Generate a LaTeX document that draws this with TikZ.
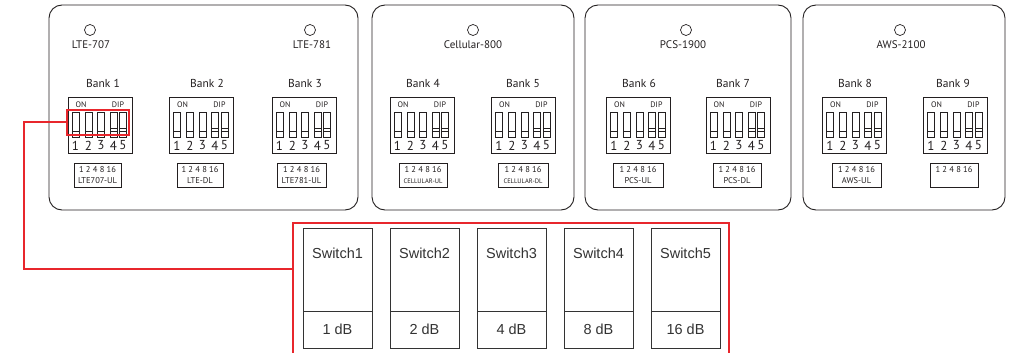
\documentclass[tikz,border=0pt]{standalone}
\usepackage{fontspec}
\setmainfont{PT Sans}
\newfontfamily\helv{Liberation Sans}
\definecolor{hired}{HTML}{E8262C}
\definecolor{ink}{HTML}{231F20}
\definecolor{swgray}{HTML}{333333}
\tikzset{
  panel/.style={draw=ink, line width=0.9pt, rounded corners=13pt, inner sep=0pt},
  hole/.style={draw=ink, line width=0.7pt, circle, minimum size=11pt, inner sep=0pt},
  toplbl/.style={text=ink, font=\fontsize{11}{12}\selectfont, inner sep=0pt},
  banklbl/.style={text=ink, font=\fontsize{11.5}{12}\selectfont, inner sep=0pt},
  dipframe/.style={draw=ink, line width=0.8pt, minimum width=64pt, minimum height=56pt, inner sep=0pt},
  swline/.style={draw=ink, line width=0.7pt},
  digit/.style={text=ink, font=\fontsize{13}{13}\selectfont, inner sep=0pt},
  tinylbl/.style={text=ink, font=\fontsize{8}{8}\selectfont, inner sep=0pt},
  lblbox/.style={draw=ink, line width=0.7pt, minimum height=24pt, inner sep=0pt},
  lbltxt/.style={text=ink, font=\fontsize{8.5}{9}\selectfont, inner sep=0pt},
  hilite/.style={draw=hired, line width=2pt, minimum width=62pt, minimum height=25pt, inner sep=0pt},
  redline/.style={draw=hired, line width=1.6pt},
  swbox/.style={draw=swgray, line width=0.9pt, minimum width=69pt, minimum height=120pt, inner sep=0pt},
  swtxt/.style={text=swgray, font=\helv\fontsize{14.5}{15}\selectfont, inner sep=0pt}
}
\newcommand\bank[6]{%
  \node[banklbl] (bank#1) at (#2,83) {Bank #1};
  \node[dipframe] (dip#1) at (#3,125) {};
  \foreach \o [count=\k] in {4,17,29.5,42,51.5}{
    \draw[swline] (#3-32+\o,112) rectangle ++(7,25);
    \draw[swline] (#3-32+\o,131) -- ++(7,0);
    \node[digit] (d#1-\k) at (#3-28.5+\o,145.5) {\k};
  }
  \foreach \o in {42,51.5}{
    \draw[swline] (#3-32+\o,128.5) -- ++(7,0);
  }
  \node[tinylbl] (on#1) at (#3-19,105) {ON};
  \node[tinylbl] (dipt#1) at (#3+18,105) {DIP};
  \node[lblbox, minimum width=#5] (lb#1) at (#4,175) {};
  \node[lbltxt] (lbn#1) at (#4,169.5) {1 2 4 8 16};
  \node[lbltxt] (lbt#1) at (#4,181) {#6};
}
\begin{document}
\begin{tikzpicture}[x=1pt,y=-1pt]
\useasboundingbox[fill=white] (0,0) rectangle (1011,353);
% panels
\node[panel, minimum width=309pt, minimum height=205pt] (p1) at (203.5,107.5) {};
\node[panel, minimum width=202pt, minimum height=205pt] (p2) at (473,107.5) {};
\node[panel, minimum width=206pt, minimum height=205pt] (p3) at (688,107.5) {};
\node[panel, minimum width=202pt, minimum height=205pt] (p4) at (904,107.5) {};
% holes and top labels
\node[hole] (h1) at (90,30) {};
\node[toplbl] (t1) at (91,45) {LTE-707};
\node[hole] (h2) at (310,30) {};
\node[toplbl] (t2) at (312,45) {LTE-781};
\node[hole] (h3) at (473,30) {};
\node[toplbl] (t3) at (473,45) {Cellular-800};
\node[hole] (h4) at (686,30) {};
\node[toplbl] (t4) at (683,45) {PCS-1900};
\node[hole] (h5) at (900,30) {};
\node[toplbl] (t5) at (901,45) {AWS-2100};
% banks
\bank{1}{103}{100}{97.5}{47pt}{LTE707-UL}
\bank{2}{207}{201.5}{200}{46pt}{LTE-DL}
\bank{3}{305}{304}{301.5}{49pt}{LTE781-UL}
\bank{4}{423}{422}{423}{48pt}{\fontsize{6.5}{7}\selectfont CELLULAR-UL}
\bank{5}{523}{523.5}{523}{50pt}{\fontsize{6.5}{7}\selectfont CELLULAR-DL}
\bank{6}{639}{638.5}{638}{50pt}{PCS-UL}
\bank{7}{733}{738}{737}{48pt}{PCS-DL}
\bank{8}{855}{854.5}{856.5}{49pt}{AWS-UL}
\bank{9}{953}{955.5}{954}{48pt}{}
% highlight and connector
\node[hilite] (hl) at (98,122) {};
\node[draw=hired, line width=1.6pt, minimum width=436pt, minimum height=140pt, inner sep=0pt] (redbox) at (511,293) {};
\coordinate (c1) at (24,122);
\coordinate (c2) at (24,269);
\draw[redline] (hl.west) -- (c1) -- (c2) -- (c2 -| redbox.west);
% switch boxes
\foreach \i/\db in {1/1,2/2,3/4,4/8,5/16}{
  \node[swbox] (sw\i) at ({303+(\i-1)*87+34.5},288) {};
  \draw[draw=swgray, line width=0.9pt] ({303+(\i-1)*87},311) -- ({303+(\i-1)*87+69},311);
  \node[swtxt] (swt\i) at ({303+(\i-1)*87+34.5},253) {Switch\i};
  \node[swtxt] (swd\i) at ({303+(\i-1)*87+34.5},329.5) {\db\ dB};
}
\end{tikzpicture}
\end{document}
